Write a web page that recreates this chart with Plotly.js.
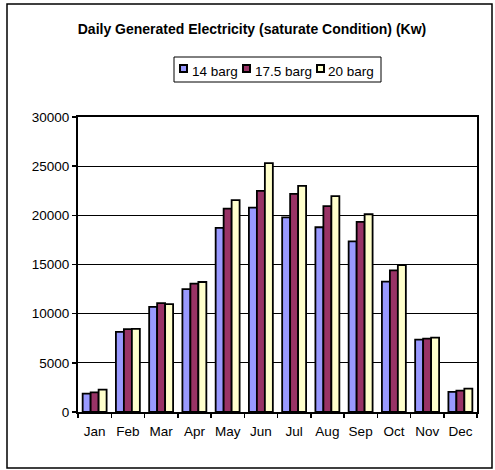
<!DOCTYPE html>
<html><head><meta charset="utf-8">
<script src="https://cdn.plot.ly/plotly-3.0.1.min.js"></script>
<style>body{margin:0;background:#fff}#c{width:495px;height:470px}</style>
</head><body><div id="c"></div>
<script>
const months = ["Jan","Feb","Mar","Apr","May","Jun","Jul","Aug","Sep","Oct","Nov","Dec"];
const s14 = [1870, 8150, 10700, 12500, 18720, 20790, 19800, 18790, 17360, 13250, 7370, 2040];
const s175 = [2000, 8430, 11080, 13050, 20690, 22490, 22180, 20930, 19330, 14400, 7470, 2170];
const s20 = [2280, 8460, 10970, 13220, 21540, 25310, 23000, 21950, 20110, 14950, 7570, 2380];
const names = ["14 barg","17.5 barg","20 barg"];
const colors = ["#9999FF","#993366","#FFFFCC"];
const yTicks = [0,5000,10000,15000,20000,25000,30000];
const series = [s14, s175, s20];

const L=78, R=18, T=117, B=58, W=495, H=470;
const pw = W-L-R, ph = H-T-B;
const px = x => (x-L)/pw;
const py = y => (H-B-y)/ph;

const traces = series.map((v,i)=>({type:'bar', x:months, y:v, name:names[i], showlegend:false,
  marker:{color:colors[i], line:{color:'#000', width:1.8}}}));
const F = 'Arial, "Liberation Sans", sans-serif';

// custom legend (Excel-style compact)
const legMarkX = [179, 242, 316];
const legTextX = [190, 253, 326];
const shapes = [
  {type:'rect', xref:'paper', yref:'paper', x0:px(7), x1:px(492), y0:py(468), y1:py(4), line:{color:'#000', width:1.5}},
  {type:'rect', xref:'paper', yref:'paper', x0:px(174), x1:px(381), y0:py(82), y1:py(57), line:{color:'#000', width:1}, fillcolor:'#fff'}
];
const annotations = [];
names.forEach((n,i)=>{
  shapes.push({type:'rect', xref:'paper', yref:'paper', x0:px(legMarkX[i]+1), x1:px(legMarkX[i]+8), y0:py(72), y1:py(65), line:{color:'#000', width:2}, fillcolor:colors[i]});
  annotations.push({xref:'paper', yref:'paper', x:px(legTextX[i]), y:py(72), xanchor:'left', yanchor:'middle', text:n, showarrow:false, font:{family:F, size:13.5, color:'#000'}});
});

const layout = {
  width:W, height:H,
  margin:{l:L, r:R, t:T, b:B},
  paper_bgcolor:'#fff', plot_bgcolor:'#fff',
  font:{family:F, size:13.5, color:'#000'},
  title:{text:'<b>Daily Generated Electricity (saturate Condition) (Kw)</b>', x:252/495, xanchor:'center', y:1-29/470, yanchor:'middle', font:{family:F, size:14, color:'#000'}},
  barmode:'group', bargap:0.28, bargroupgap:0,
  showlegend:false,
  xaxis:{type:'category', showline:true, linecolor:'#000', linewidth:2, mirror:true, ticks:'outside', tickson:'boundaries', ticklen:4, tickcolor:'#000', tickwidth:1.5, tickfont:{size:13.5}, tickangle:0, ticklabelstandoff:6, showgrid:false},
  yaxis:{range:[0,30000], tickvals:yTicks, ticktext:yTicks.map(String), showline:true, linecolor:'#000', linewidth:2, mirror:true, ticks:'outside', ticklen:4, tickcolor:'#000', tickwidth:1.5, showgrid:true, gridcolor:'#000', gridwidth:1, zeroline:false, tickfont:{size:13.5}},
  shapes:shapes,
  annotations:annotations
};
Plotly.newPlot('c', traces, layout, {displayModeBar:false, staticPlot:true});
</script></body></html>
